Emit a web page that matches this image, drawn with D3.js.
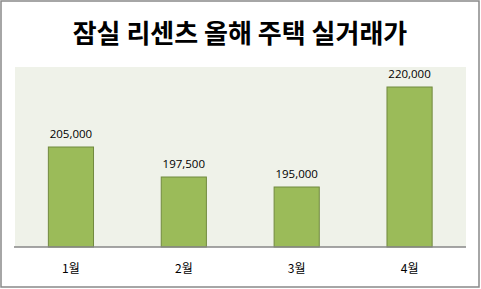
<!DOCTYPE html>
<html><head><meta charset="utf-8">
<script src="https://cdn.jsdelivr.net/npm/d3@7"></script>
<style>body{margin:0;background:#fff}svg{display:block}</style>
</head><body>
<script>
const title = "잠실 리센츠 올해 주택 실거래가";
const categories = ["1월","2월","3월","4월"];
const values = [205000,197500,195000,220000];
const yDomain = [180000,225000];

const W=481,H=289;
const svg=d3.select("body").append("svg").attr("width",W).attr("height",H);
svg.append("rect").attr("x",1).attr("y",1).attr("width",W-3).attr("height",H-3)
  .attr("fill","#fff").attr("stroke","#898989").attr("stroke-width",1.5);

const m={l:14.5,r:466,t:67,b:247};
const x=d3.scaleBand().domain(categories).range([m.l,m.r]).paddingInner(0.6).paddingOuter(0.3);
const y=d3.scaleLinear().domain(yDomain).range([m.b,m.t]);

svg.append("rect").attr("x",15).attr("y",m.t).attr("width",451).attr("height",m.b-m.t).attr("fill","#eff2e9");

svg.append("text").attr("x",240).attr("y",43).attr("text-anchor","middle")
  .attr("font-family","'Noto Sans CJK KR'").attr("font-weight","bold").attr("font-size",26)
  .attr("fill","#000").text(title);

svg.selectAll(".bar").data(values).join("rect")
  .attr("x",(d,i)=>x(categories[i])).attr("width",x.bandwidth())
  .attr("y",d=>y(d)).attr("height",d=>m.b-y(d))
  .attr("fill","#9bbb59").attr("stroke","#71893f").attr("stroke-width",1);

svg.selectAll(".lbl").data(values).join("text")
  .attr("x",(d,i)=>x(categories[i])+x.bandwidth()/2).attr("y",d=>y(d)-9)
  .attr("text-anchor","middle").attr("font-family","'Open Sans', 'Noto Sans'").attr("font-size",11.5)
  .attr("fill","#000").text(d=>d3.format(",")(d));

const ax=svg.append("g").attr("transform",`translate(0,${m.b})`)
  .call(d3.axisBottom(x).tickSize(0).tickPadding(17));
ax.select(".domain").attr("stroke","#878787").attr("stroke-width",1.5).attr("d",`M14,0H466`);
ax.selectAll("text").attr("font-family","'Noto Sans CJK KR'").attr("font-size",12).attr("fill","#000");
</script>
</body></html>
